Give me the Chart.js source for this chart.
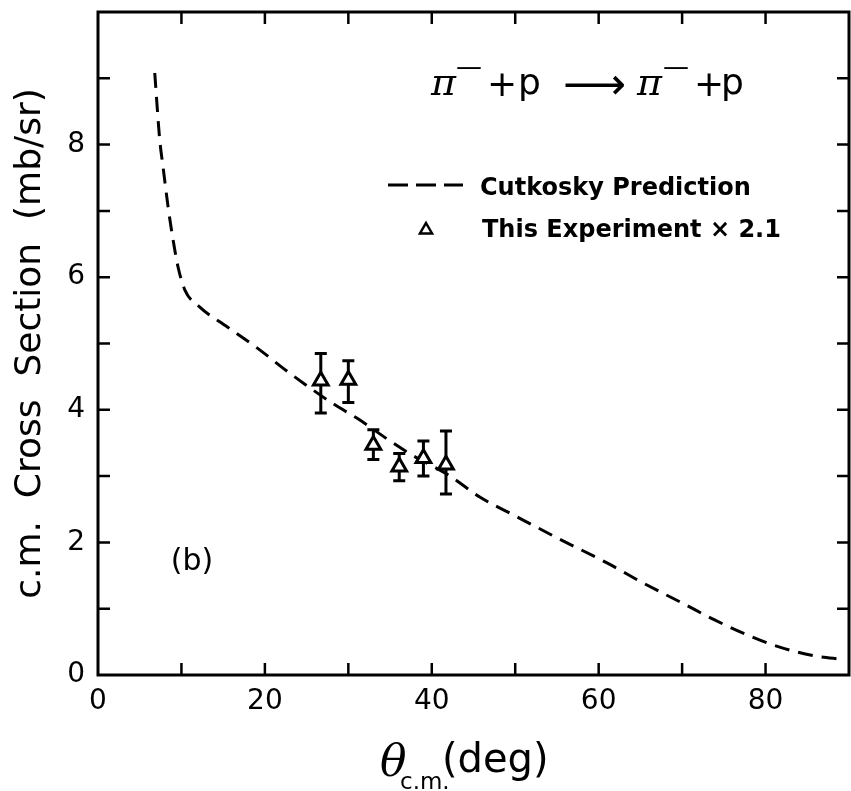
<!DOCTYPE html>
<html><head><meta charset="utf-8">
<script src="https://cdn.jsdelivr.net/npm/chart.js@4"></script>
<style>html,body{margin:0;padding:0;background:#fff}canvas{display:block}</style>
</head><body>
<canvas id="c" width="851" height="791"></canvas>
<script>
// ---- data ----
const curveTheta = [6.8, 7.4, 7.8, 8.4, 9.0, 9.6, 10.4, 12.2, 15.5, 19.1, 23.0, 28.2, 31.2, 35.0, 37.6, 42.2, 45.8, 50.0, 55.0, 61.0, 65.3, 70.4, 73.9, 77.9, 81.7, 86.3, 89.0];
const curveSigma = [9.08, 8.07, 7.66, 7.06, 6.56, 6.15, 5.81, 5.55, 5.25, 4.93, 4.55, 4.09, 3.86, 3.53, 3.32, 3.00, 2.68, 2.40, 2.07, 1.69, 1.39, 1.06, 0.83, 0.60, 0.42, 0.28, 0.24];
const expTheta = [26.7, 30.0, 33.0, 36.1, 39.0, 41.7];
const expSigma = [4.44, 4.45, 3.47, 3.14, 3.27, 3.17];
const expErrHigh = [4.85, 4.74, 3.70, 3.34, 3.53, 3.68];
const expErrLow = [3.95, 4.11, 3.25, 2.93, 3.00, 2.73];
const xTickValues = [0, 20, 40, 60, 80];
const yTickValues = [0, 2, 4, 6, 8];
const xMinorTicks = [10, 20, 30, 40, 50, 60, 70, 80];
const yMinorTicks = [1, 2, 3, 4, 5, 6, 7, 8, 9];
const seriesNames = ['Cutkosky Prediction', 'This Experiment \u00d7 2.1'];

const FONT = 'DejaVu Sans';

const errorBarPlugin = {
  id: 'errorBars',
  beforeDatasetDraw(chart, args) {
    if (args.index !== 0) return;
    const {ctx, scales: {x, y}} = chart;
    ctx.save();
    ctx.strokeStyle = '#000';
    ctx.lineWidth = 3;
    expTheta.forEach((t, i) => {
      const px = x.getPixelForValue(t);
      const yt = y.getPixelForValue(expErrHigh[i]);
      const yb = y.getPixelForValue(expErrLow[i]);
      ctx.beginPath();
      ctx.moveTo(px, yt); ctx.lineTo(px, yb);
      ctx.moveTo(px - 6, yt); ctx.lineTo(px + 6, yt);
      ctx.moveTo(px - 6, yb); ctx.lineTo(px + 6, yb);
      ctx.stroke();
    });
    ctx.restore();
  }
};

const framePlugin = {
  id: 'frame',
  afterDraw(chart) {
    const {ctx, chartArea: {left, right, top, bottom}, scales: {x, y}} = chart;
    ctx.save();
    ctx.strokeStyle = '#000';
    ctx.lineWidth = 3;
    ctx.strokeRect(left, top, right - left, bottom - top);
    ctx.lineWidth = 2.5;
    const tl = 12;
    ctx.beginPath();
    xMinorTicks.forEach(v => {
      const px = x.getPixelForValue(v);
      ctx.moveTo(px, bottom); ctx.lineTo(px, bottom - tl);
      ctx.moveTo(px, top); ctx.lineTo(px, top + tl);
    });
    yMinorTicks.forEach(v => {
      const py = y.getPixelForValue(v);
      ctx.moveTo(left, py); ctx.lineTo(left + tl, py);
      ctx.moveTo(right, py); ctx.lineTo(right - tl, py);
    });
    ctx.stroke();
    ctx.restore();
  }
};

const textPlugin = {
  id: 'texts',
  afterDraw(chart) {
    const ctx = chart.ctx;
    ctx.save();
    ctx.fillStyle = '#000';
    ctx.strokeStyle = '#000';
    ctx.textAlign = 'left';
    ctx.textBaseline = 'alphabetic';
    // reaction
    const piFont = 'italic 38px "DejaVu Serif"';
    const sup = '26px "' + FONT + '"';
    const big = '36px "' + FONT + '"';
    ctx.font = piFont; ctx.fillText('\u03c0', 431, 95);
    ctx.font = sup; ctx.fillText('\u2014', 456, 75);
    ctx.font = big; ctx.fillText('+', 487, 96);
    ctx.fillText('p', 518, 94);
    ctx.font = '44px "' + FONT + '"'; ctx.fillText('\u27f6', 563, 99);
    ctx.font = piFont; ctx.fillText('\u03c0', 637, 95);
    ctx.font = sup; ctx.fillText('\u2014', 663, 75);
    ctx.font = big; ctx.fillText('+', 694, 96);
    ctx.fillText('p', 721, 94);
    // legend
    ctx.lineWidth = 3;
    ctx.setLineDash([20, 8]);
    ctx.beginPath(); ctx.moveTo(388, 185); ctx.lineTo(463, 185); ctx.stroke();
    ctx.setLineDash([]);
    ctx.font = 'bold 24px "' + FONT + '"';
    ctx.fillText(seriesNames[0], 480, 195);
    ctx.fillText(seriesNames[1], 482, 237);
    ctx.lineWidth = 2.5;
    const r = 7, cx = 426, cy = 230;
    ctx.beginPath();
    ctx.moveTo(cx, cy - r);
    ctx.lineTo(cx + r * 0.866, cy + r / 2);
    ctx.lineTo(cx - r * 0.866, cy + r / 2);
    ctx.closePath(); ctx.stroke();
    // panel label
    ctx.font = '30px "' + FONT + '"';
    ctx.textAlign = 'center'; ctx.textBaseline = 'middle';
    ctx.fillText('(b)', 192, 562);
    // x title
    ctx.textAlign = 'left'; ctx.textBaseline = 'alphabetic';
    ctx.font = 'italic 44px "DejaVu Serif"'; ctx.fillText('\u03b8', 380, 776);
    ctx.font = '23px "' + FONT + '"'; ctx.fillText('c.m.', 400, 789);
    ctx.font = '40px "' + FONT + '"'; ctx.fillText('(deg)', 442, 772);
    ctx.restore();
  }
};

const noPadX = s => { s.height = 116; s.paddingLeft = 0; s.paddingRight = 0; };
const noPadY = s => { s.width = 98; s.paddingTop = 0; s.paddingBottom = 0; };

const ctx = document.getElementById('c').getContext('2d');
new Chart(ctx, {
  type: 'line',
  data: {
    datasets: [
      {
        type: 'scatter',
        label: seriesNames[1],
        data: expTheta.map((t, i) => ({x: t, y: expSigma[i]})),
        pointStyle: 'triangle',
        pointRadius: 8.5,
        pointHoverRadius: 8.5,
        borderWidth: 3,
        borderColor: '#000',
        backgroundColor: '#fff',
        showLine: false
      },
      {
        type: 'line',
        label: seriesNames[0],
        data: curveTheta.map((t, i) => ({x: t, y: curveSigma[i]})),
        borderColor: '#000',
        borderWidth: 3,
        borderDash: [15, 9],
        pointRadius: 0,
        fill: false,
        cubicInterpolationMode: 'monotone'
      }
    ]
  },
  options: {
    responsive: false,
    animation: false,
    devicePixelRatio: 1,
    layout: {autoPadding: false, padding: {left: 0, right: 2, top: 12, bottom: 0}},
    plugins: {legend: {display: false}, tooltip: {enabled: false}},
    scales: {
      x: {
        type: 'linear', min: 0, max: 90,
        grid: {display: false, drawTicks: false},
        border: {display: false},
        ticks: {
          stepSize: 10, autoSkip: false, padding: 10, color: '#000',
          font: {family: FONT, size: 28, lineHeight: 1.2},
          maxRotation: 0,
          callback: v => xTickValues.includes(v) ? String(v) : ''
        },
        afterFit: noPadX
      },
      y: {
        type: 'linear', min: 0, max: 10,
        grid: {display: false, drawTicks: false},
        border: {display: false},
        ticks: {
          stepSize: 1, autoSkip: false, padding: 13, color: '#000',
          font: {family: FONT, size: 28, lineHeight: 1.2},
          callback: v => yTickValues.includes(v) ? String(v) : ''
        },
        title: {
          display: true, text: 'c.m.  Cross  Section  (mb/sr)', color: '#000',
          font: {family: FONT, size: 36, lineHeight: 1.2},
          padding: {top: 9, bottom: 0}
        },
        afterFit: noPadY
      }
    }
  },
  plugins: [errorBarPlugin, framePlugin, textPlugin]
});
</script>
</body></html>
